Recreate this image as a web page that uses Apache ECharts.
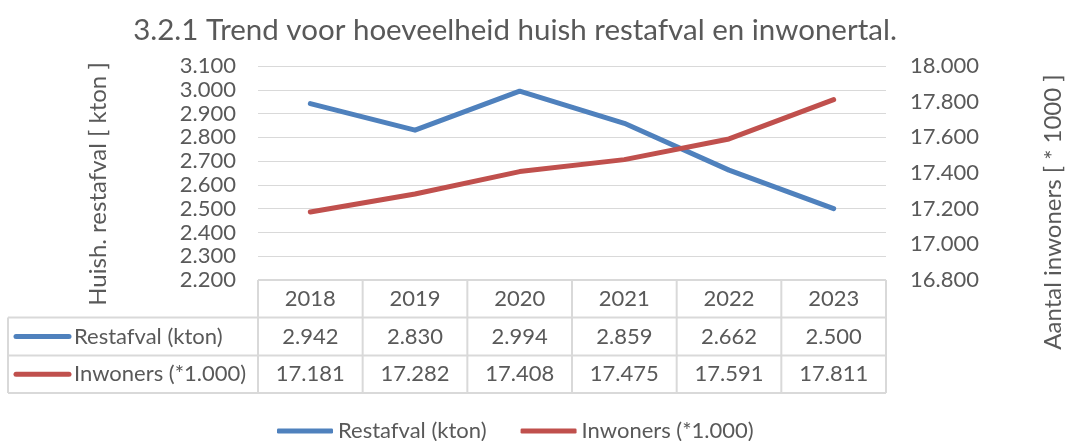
<!DOCTYPE html>
<html><head><meta charset="utf-8">
<script src="https://cdn.jsdelivr.net/npm/echarts@6/dist/echarts.min.js"></script>
<style>html,body{margin:0;padding:0;background:#fff}#c{width:1066px;height:441px}</style>
</head><body><div id="c"></div>
<script>
const years = ['2018', '2019', '2020', '2021', '2022', '2023'];
const restafval = [2942, 2830, 2994, 2859, 2662, 2500];
const inwoners = [17181, 17282, 17408, 17475, 17591, 17811];
const seriesNames = ['Restafval (kton)', 'Inwoners (*1.000)'];
const leftTicks = { min: 2200, max: 3100, interval: 100 };
const rightTicks = { min: 16800, max: 18000, interval: 200 };
const titleText = '3.2.1 Trend voor hoeveelheid huish restafval en inwonertal.';
const leftName = 'Huish. restafval [ kton ]';
const rightName = 'Aantal inwoners [ * 1000 ]';

const FONT = 'Lato';
const TXT = '#595959';
const GRIDC = '#D9D9D9';
const COLORS = ['#4F81BD', '#C0504D'];
const FS = 22;
const NFS = 24;
const G = { left: 258, right: 180, top: 66, bottom: 161 };
const rowsY = [280, 317.5, 355.5, 393];
const tableLeft = 8;

function fmt(v) { return String(v).replace(/\B(?=(\d{3})+(?!\d))/g, '.'); }

const chart = echarts.init(document.getElementById('c'), null, { renderer: 'canvas' });
const option = {
  animation: false,
  textStyle: { fontFamily: FONT, color: TXT },
  grid: { left: G.left, right: G.right, top: G.top, bottom: G.bottom },
  legend: {
    left: 272, top: 415, itemWidth: 56, itemHeight: 5, itemGap: 34,
    icon: 'roundRect',
    textStyle: { fontFamily: FONT, fontSize: FS, color: TXT },
    data: seriesNames
  },
  xAxis: {
    type: 'category', data: years, boundaryGap: true,
    axisLine: { show: false }, axisTick: { show: false }, axisLabel: { show: false }
  },
  yAxis: [
    {
      type: 'value', min: leftTicks.min, max: leftTicks.max, interval: leftTicks.interval,
      axisLine: { show: false }, axisTick: { show: false },
      axisLabel: { formatter: fmt, fontFamily: FONT, fontSize: FS, color: TXT, margin: 22 },
      splitLine: { lineStyle: { color: GRIDC, width: 1 } }
    },
    {
      type: 'value', min: rightTicks.min, max: rightTicks.max, interval: rightTicks.interval,
      axisLine: { show: false }, axisTick: { show: false },
      axisLabel: { formatter: fmt, fontFamily: FONT, fontSize: FS, color: TXT, margin: 24 },
      splitLine: { show: false }
    }
  ],
  series: [
    { name: seriesNames[0], type: 'line', data: restafval, yAxisIndex: 0, showSymbol: false, symbol: 'none',
      lineStyle: { color: COLORS[0], width: 5, cap: 'round', join: 'round' }, itemStyle: { color: COLORS[0] } },
    { name: seriesNames[1], type: 'line', data: inwoners, yAxisIndex: 1, showSymbol: false, symbol: 'none',
      lineStyle: { color: COLORS[1], width: 5, cap: 'round', join: 'round' }, itemStyle: { color: COLORS[1] } }
  ]
};
chart.setOption(option);

const gridRight = 1066 - G.right;
const centers = years.map((y, i) => chart.convertToPixel({ xAxisIndex: 0 }, i));
const colW = (gridRight - G.left) / years.length;
const els = [];
els.push({ type: 'text', x: 515, y: 30, style: { text: titleText, fill: TXT, font: '29.5px ' + FONT, align: 'center', verticalAlign: 'middle' } });
els.push({ type: 'text', x: 98, y: 184, rotation: Math.PI / 2, style: { text: leftName, fill: TXT, font: NFS + 'px ' + FONT, align: 'center', verticalAlign: 'middle' } });
els.push({ type: 'text', x: 1053, y: 212, rotation: Math.PI / 2, style: { text: rightName, fill: TXT, font: NFS + 'px ' + FONT, align: 'center', verticalAlign: 'middle' } });
const ls = { stroke: GRIDC, lineWidth: 2 };
els.push({ type: 'line', shape: { x1: G.left, y1: rowsY[0], x2: gridRight, y2: rowsY[0] }, style: ls });
for (let r = 1; r < rowsY.length; r++) {
  els.push({ type: 'line', shape: { x1: tableLeft, y1: rowsY[r], x2: gridRight, y2: rowsY[r] }, style: ls });
}
els.push({ type: 'line', shape: { x1: tableLeft, y1: rowsY[1], x2: tableLeft, y2: rowsY[3] }, style: ls });
for (let i = 0; i <= years.length; i++) {
  const x = G.left + i * colW;
  els.push({ type: 'line', shape: { x1: x, y1: rowsY[0], x2: x, y2: rowsY[3] }, style: ls });
}
const mid = r => (rowsY[r] + rowsY[r + 1]) / 2;
years.forEach((y, i) => {
  els.push({ type: 'text', x: centers[i], y: mid(0), style: { text: y, fill: TXT, font: FS + 'px ' + FONT, align: 'center', verticalAlign: 'middle' } });
  els.push({ type: 'text', x: centers[i], y: mid(1), style: { text: fmt(restafval[i]), fill: TXT, font: FS + 'px ' + FONT, align: 'center', verticalAlign: 'middle' } });
  els.push({ type: 'text', x: centers[i], y: mid(2), style: { text: fmt(inwoners[i]), fill: TXT, font: FS + 'px ' + FONT, align: 'center', verticalAlign: 'middle' } });
});
seriesNames.forEach((n, k) => {
  const yy = mid(k + 1);
  els.push({ type: 'line', shape: { x1: 16, y1: yy, x2: 69, y2: yy }, style: { stroke: COLORS[k], lineWidth: 5, lineCap: 'round' } });
  els.push({ type: 'text', x: 74, y: yy, style: { text: n, fill: TXT, font: FS + 'px ' + FONT, align: 'left', verticalAlign: 'middle' } });
});
chart.setOption({ graphic: { elements: els } });
</script></body></html>
